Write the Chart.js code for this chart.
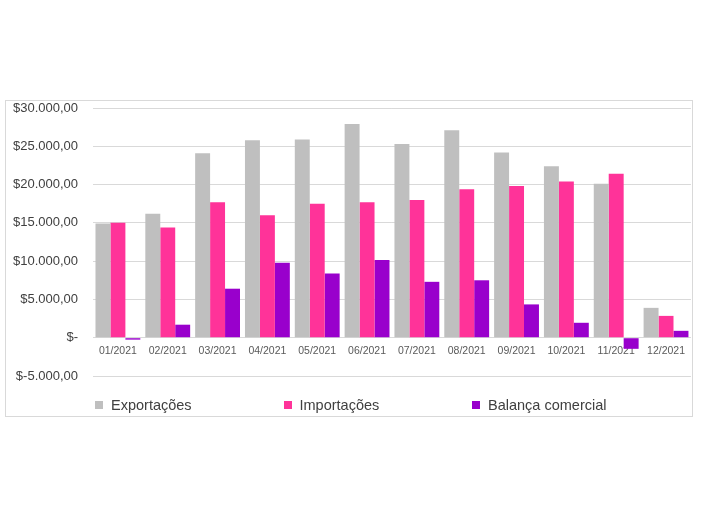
<!DOCTYPE html>
<html>
<head>
<meta charset="utf-8">
<script src="https://cdn.jsdelivr.net/npm/chart.js@4"></script>
<style>
  body { margin: 0; background: #fff; width: 704px; height: 528px; position: relative; font-family: "Liberation Sans", Arial, sans-serif; }
  .chart-box { position: absolute; left: 5px; top: 100px; width: 686px; height: 315px; border: 1px solid #d9d9d9; }
  .legend { position: absolute; left: 95px; top: 396px; display: flex; }
  .legend-item { width: 188.5px; display: flex; align-items: center; font-size: 14.5px; color: #404040; height: 18px; }
  .legend-box { width: 8px; height: 8px; margin-right: 8px; }
</style>
</head>
<body>
<div class="chart-box">
  <canvas id="chart" width="686" height="315"></canvas>
</div>
<div class="legend" id="legend"></div>

<script>
  // Chart data
  const months = ["01/2021", "02/2021", "03/2021", "04/2021", "05/2021", "06/2021",
                  "07/2021", "08/2021", "09/2021", "10/2021", "11/2021", "12/2021"]
  const exportacoes = [14900, 16200, 24100, 25800, 25900, 27900, 25300, 27100, 24200, 22400, 20100, 3900]
  const importacoes = [15000, 14400, 17700, 16000, 17500, 17700, 18000, 19400, 19800, 20400, 21400, 2850]
  const balanca = [-250, 1700, 6400, 9800, 8400, 10150, 7300, 7500, 4350, 1950, -1450, 900]
  const seriesNames = ["Exportações", "Importações", "Balança comercial"]
  const seriesColors = ["#bfbfbf", "#ff3399", "#9900cc"]

  const formatMoney = (v) => {
    if (v === 0) return "$-"
    const abs = Math.abs(v).toFixed(0).replace(/\B(?=(\d{3})+(?!\d))/g, ".")
    return "$" + (v < 0 ? "-" : "") + abs + ",00"
  }

  const seriesData = [exportacoes, importacoes, balanca]

  new Chart(document.getElementById("chart"), {
    type: "bar",
    data: {
      labels: months,
      datasets: seriesData.map((data, i) => ({
        label: seriesNames[i],
        data: data,
        backgroundColor: seriesColors[i],
        categoryPercentage: 0.9,
        barPercentage: 1.0,
      })),
    },
    options: {
      responsive: false,
      animation: false,
      layout: {
        padding: { top: 7, bottom: 40, left: 0, right: 0 },
      },
      plugins: {
        legend: { display: false },
        tooltip: { enabled: false },
      },
      scales: {
        x: {
          position: { y: 0 },
          grid: { display: false, drawTicks: false, tickLength: 0 },
          border: { display: false },
          ticks: {
            color: "#595959",
            padding: 7,
            maxRotation: 0,
            font: { family: "Liberation Sans", size: 10.5 },
          },
        },
        y: {
          min: -5000,
          max: 30000,
          border: { display: false },
          grid: { color: "#d9d9d9", drawTicks: false },
          // fixed width, and no extra top/bottom padding from the tick gap
          afterFit: (scale) => {
            scale.width = 87
            scale.paddingTop = 0
            scale.paddingBottom = 0
          },
          ticks: {
            stepSize: 5000,
            color: "#404040",
            padding: 15,
            font: { family: "Liberation Sans", size: 13 },
            callback: (v) => formatMoney(v),
          },
        },
      },
    },
  })

  // Legend
  const legend = document.getElementById("legend")
  seriesNames.forEach((name, i) => {
    const item = document.createElement("div")
    item.className = "legend-item"
    item.innerHTML = '<span class="legend-box" style="background:' + seriesColors[i] + '"></span><span>' + name + "</span>"
    legend.appendChild(item)
  })
</script>
</body>
</html>
